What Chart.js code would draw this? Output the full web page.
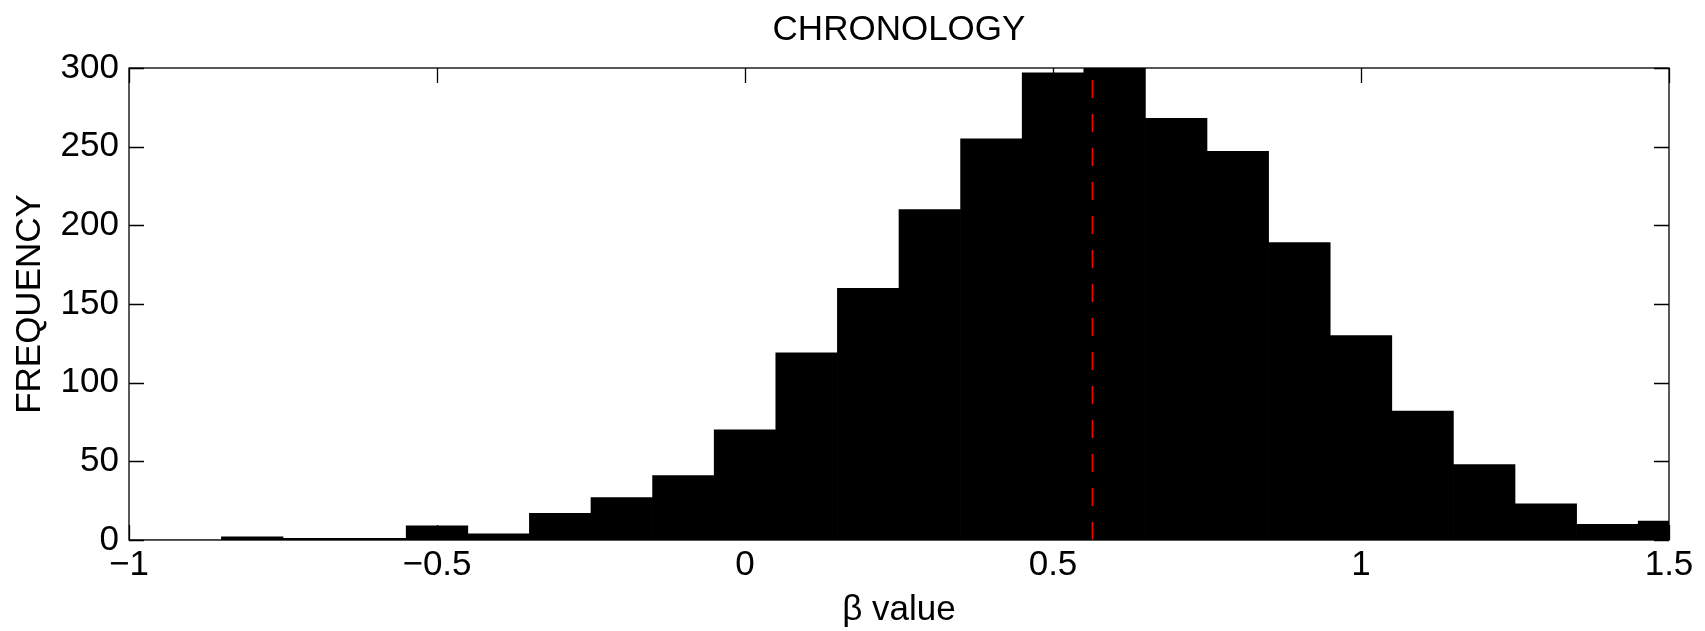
<!DOCTYPE html>
<html>
<head>
<meta charset="UTF-8">
<title>CHRONOLOGY</title>
<script src="https://cdn.jsdelivr.net/npm/chart.js@4/dist/chart.umd.min.js"></script>
<style>
  html, body { margin: 0; padding: 0; background: #fff; }
  canvas { display: block; }
</style>
</head>
<body>
<canvas id="chart" width="1705" height="631"></canvas>
<script>
// histogram bins (centres) and counts
var binCenters = [-1.0, -0.9, -0.8, -0.7, -0.6, -0.5, -0.4, -0.3, -0.2, -0.1,
                  0.0, 0.1, 0.2, 0.3, 0.4, 0.5, 0.6, 0.7, 0.8, 0.9,
                  1.0, 1.1, 1.2, 1.3, 1.4, 1.5];
var counts = [0, 0, 2, 1, 1, 9, 4, 17, 27, 41,
              70, 119, 160, 210, 255, 297, 302, 268, 247, 189,
              130, 82, 48, 23, 10, 12];
// red dashed marker
var meanBeta = 0.564;
var meanLineY = [0, 300];
var xTicks = [-1, -0.5, 0, 0.5, 1, 1.5];
var yTicks = [0, 50, 100, 150, 200, 250, 300];

var FONT = 'Liberation Sans, Arial, Helvetica, sans-serif';
var FS = 35;
var tickLen = 15;

function fmt(v) {
    return String(v).replace('-', '\u2212');
}

// MATLAB style box with inward ticks on all four sides
var boxPlugin = {
    id: 'box',
    afterDatasetsDraw: function (chart) {
        var a = chart.chartArea, c = chart.ctx;
        var sx = chart.scales.x, sy = chart.scales.y;
        c.save();
        c.strokeStyle = '#000';
        c.lineWidth = 1.3;
        c.beginPath();
        xTicks.forEach(function (v) {
            var px = Math.round(sx.getPixelForValue(v)) + 0.5;
            c.moveTo(px, a.top); c.lineTo(px, a.top + tickLen);
            c.moveTo(px, a.bottom); c.lineTo(px, a.bottom - tickLen);
        });
        yTicks.forEach(function (v) {
            var py = Math.round(sy.getPixelForValue(v)) + 0.5;
            c.moveTo(a.left, py); c.lineTo(a.left + tickLen, py);
            c.moveTo(a.right, py); c.lineTo(a.right - tickLen, py);
        });
        c.stroke();
        c.strokeRect(a.left, a.top, a.right - a.left, a.bottom - a.top);
        c.restore();
    }
};

var ctx = document.getElementById('chart').getContext('2d');
var chart = new Chart(ctx, {
    type: 'bar',
    data: {
        datasets: [{
            type: 'line',
            order: 0,
            data: meanLineY.map(function (y) { return { x: meanBeta, y: y }; }),
            borderColor: '#ff0000',
            borderWidth: 1.5,
            borderDash: [18, 16],
            pointRadius: 0,
            fill: false
        }, {
            type: 'bar',
            order: 1,
            data: binCenters.map(function (b, i) { return { x: b, y: counts[i] }; }),
            backgroundColor: '#000',
            borderWidth: 0,
            barPercentage: 1,
            categoryPercentage: 1,
            grouped: false
        }]
    },
    options: {
        responsive: false,
        animation: false,
        layout: { padding: { left: 0, right: 36, top: 0, bottom: 0 } },
        plugins: {
            legend: { display: false },
            tooltip: { enabled: false },
            title: {
                display: true,
                text: 'CHRONOLOGY',
                fullSize: false,
                color: '#000',
                font: { family: FONT, size: FS, weight: 'normal' },
                padding: { top: 9.5, bottom: 16.5 }
            }
        },
        scales: {
            x: {
                type: 'linear',
                min: -1,
                max: 1.5,
                offset: false,
                grid: { display: false, drawTicks: false, offset: false },
                border: { display: false },
                afterBuildTicks: function (s) { s.ticks = xTicks.map(function (v) { return { value: v }; }); },
                afterFit: function (s) { s.height = 91; },
                ticks: {
                    color: '#000',
                    padding: 4,
                    maxRotation: 0,
                    font: { family: FONT, size: FS },
                    callback: function (v) { return fmt(v); }
                },
                title: {
                    display: true,
                    text: '\u03b2 value',
                    color: '#000',
                    font: { family: FONT, size: FS },
                    padding: { top: 5, bottom: 0 }
                }
            },
            y: {
                min: 0,
                max: 300,
                grid: { display: false, drawTicks: false },
                border: { display: false },
                afterBuildTicks: function (s) { s.ticks = yTicks.map(function (v) { return { value: v }; }); },
                afterFit: function (s) { s.width = 129; },
                ticks: {
                    color: '#000',
                    padding: 10,
                    font: { family: FONT, size: FS },
                    callback: function (v) { return fmt(v); }
                },
                title: {
                    display: true,
                    text: 'FREQUENCY',
                    color: '#000',
                    font: { family: FONT, size: FS },
                    padding: { top: 9.5, bottom: 0 }
                }
            }
        }
    },
    plugins: [boxPlugin]
});
</script>
</body>
</html>
